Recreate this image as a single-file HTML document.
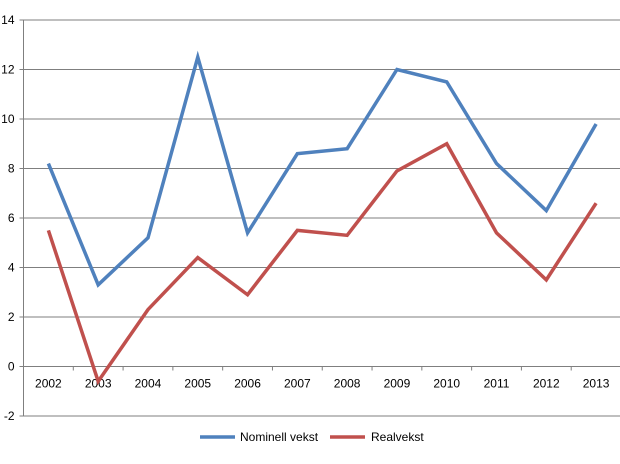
<!DOCTYPE html>
<html><head><meta charset="utf-8"><style>
body{margin:0;background:#fff;font-family:"Liberation Sans",Arial,sans-serif}
svg text{font-family:"Liberation Sans",Arial,sans-serif;font-size:12px;fill:#000}
</style></head><body>
<svg id="chart" width="620" height="459"></svg>
<script>
const categories=["2002","2003","2004","2005","2006","2007","2008","2009","2010","2011","2012","2013"];
const nominell=[8.2,3.3,5.2,12.5,5.4,8.6,8.8,12.0,11.5,8.2,6.3,9.8];
const real=[5.5,-0.6,2.3,4.4,2.9,5.5,5.3,7.9,9.0,5.4,3.5,6.6];
const yTicks=[-2,0,2,4,6,8,10,12,14];
const NS="http://www.w3.org/2000/svg";
const svg=document.getElementById('chart');
const L=23.5,R=621,T=20,B=416,yMin=-2,yMax=14;
const step=(R-L)/categories.length;
function y(v){return B-(v-yMin)/(yMax-yMin)*(B-T);}
function x(i){return L+step*(i+0.5);}
function mk(tag,attrs){const e=document.createElementNS(NS,tag);for(const k in attrs)e.setAttribute(k,attrs[k]);svg.appendChild(e);return e;}
yTicks.forEach(v=>{
 const g=mk('line',{x1:L,x2:R,y1:y(v),y2:y(v),stroke:'#7f7f7f','stroke-width':1});
 
 
 mk('line',{x1:L-4,x2:L,y1:y(v),y2:y(v),stroke:'#7f7f7f'});
 const t=mk('text',{x:L-9,y:y(v)+4,'text-anchor':'end'});t.textContent=v;
 
 
});
const ax=mk('line',{x1:L,x2:L,y1:T,y2:B,stroke:'#7f7f7f'});


for(let i=0;i<=categories.length;i++){mk('line',{x1:L+step*i,x2:L+step*i,y1:y(0),y2:y(0)+4,stroke:'#7f7f7f'});}
categories.forEach((c,i)=>{const t=mk('text',{x:x(i),y:y(0)+21,'text-anchor':'middle'});t.textContent=c;
 
 });
function series(vals,color,name){
 const p=mk('polyline',{points:vals.map((v,i)=>x(i)+','+y(v)).join(' '),fill:'none',stroke:color,'stroke-width':3.5,'stroke-linejoin':'miter'});
 
 
}
series(nominell,'#4f81bd','nominell-vekst-line');
series(real,'#c0504d','realvekst-line');
const l1=mk('line',{x1:200,x2:235,y1:437,y2:437,stroke:'#4f81bd','stroke-width':3.5});


const t1=mk('text',{x:240,y:441});t1.textContent='Nominell vekst';


const l2=mk('line',{x1:330,x2:365,y1:437,y2:437,stroke:'#c0504d','stroke-width':3.5});


const t2=mk('text',{x:371,y:441});t2.textContent='Realvekst';


</script>
</body></html>
